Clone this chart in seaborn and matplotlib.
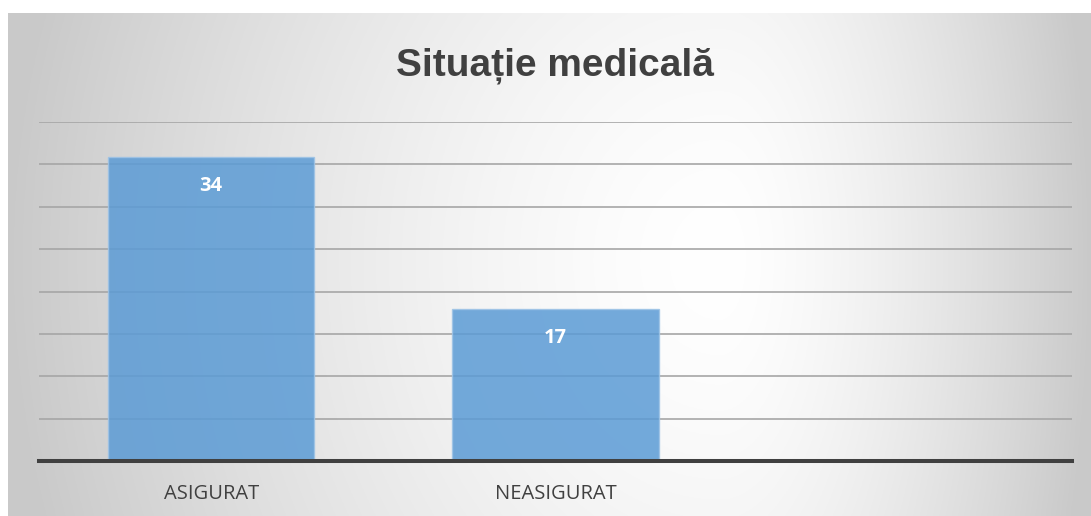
import numpy as np
import pandas as pd
import matplotlib
matplotlib.use("Agg")
import matplotlib.pyplot as plt
import seaborn as sns

# ---- data ----
categories = ["ASIGURAT", "NEASIGURAT"]
slots = ["ASIGURAT", "NEASIGURAT", ""]
values = [34, 17]
title = "Situație medicală"
grid_step = 4.74
n_grid = 8

sns.set_theme(style="white")
plt.rcParams['font.family'] = ['Open Sans', 'DejaVu Sans']

W, H = 1091, 516
fig = plt.figure(figsize=(W / 100, H / 100), dpi=100, facecolor='white')

# background gradient panel
bg = fig.add_axes([8 / W, 0, (W - 8) / W, (H - 13) / H], zorder=0)
xs = np.linspace(8, W, 600)
ys = np.linspace(13, H, 300)
X, Y = np.meshgrid(xs, ys)
cx, cy = 720, 260
u = np.where(X < cx, (cx - X) / (cx - 8), (X - cx) / (W - cx))
v = np.where(Y < cy, (cy - Y) / (cy - 13), (Y - cy) / (H - cy))
r = np.clip(np.sqrt(u ** 2 + (0.3 * v) ** 2), 0, 1)
g = 1 - 0.21 * r ** 1.5
bg.imshow(np.dstack([g, g, g]), aspect='auto', extent=[0, 1, 0, 1])
bg.axis('off')

# main axes
ax = fig.add_axes([39 / W, 55 / H, 1033 / W, 339 / H], zorder=1)
ax.patch.set_alpha(0)

df = pd.DataFrame({"cat": categories, "val": values})
sns.barplot(data=df, x="cat", y="val", order=slots, color="#5b9bd5",
            alpha=0.85, width=0.6, edgecolor="#9dc3e6", linewidth=1,
            saturation=1, ax=ax)

ax.set_ylim(0, grid_step * n_grid)
ax.set_yticks(np.arange(1, n_grid + 1) * grid_step)
ax.yaxis.grid(True, color='#a6a6a6', lw=1.2)
ax.xaxis.grid(False)
ax.set_axisbelow(True)
ax.tick_params(axis='y', left=False, labelleft=False)
ax.tick_params(axis='x', bottom=False, length=0, pad=16.5,
               labelsize=14.5, labelcolor='#404040')
ax.set_xlabel("")
ax.set_ylabel("")
for s in ['top', 'right', 'left']:
    ax.spines[s].set_visible(False)
ax.spines['bottom'].set_color('#404040')
ax.spines['bottom'].set_linewidth(2.9)
ax.spines['bottom'].set_zorder(3)

for p in ax.patches:
    h = p.get_height()
    if np.isfinite(h) and h > 0:
        ax.annotate(f"{int(round(h))}", (p.get_x() + p.get_width() / 2, h),
                    xytext=(0, -24.7), textcoords='offset points',
                    ha='center', va='baseline', color='white',
                    fontsize=14.5, fontweight='bold')

fig.text(555 / W, 1 - 75 / H, title, ha='center', va='baseline',
         fontsize=28, fontweight='bold', color='#404040',
         family=['Liberation Sans', 'DejaVu Sans'])

fig.savefig("out.png", dpi=100, facecolor='white')
